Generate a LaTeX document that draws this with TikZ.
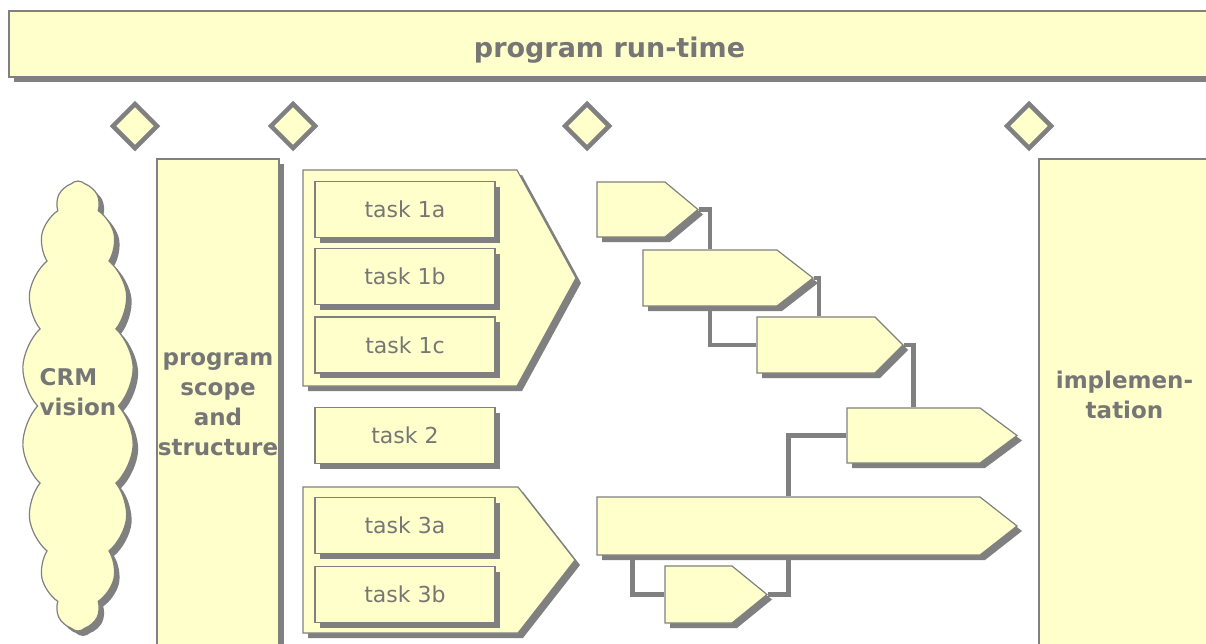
\documentclass[tikz,border=0pt]{standalone}
\usepackage{fontspec}
\setmainfont{DejaVu Sans}
\usetikzlibrary{shapes.geometric,shapes.symbols,shadows}
\definecolor{paleyellow}{RGB}{255,255,204}
\definecolor{linegray}{RGB}{128,128,128}
\definecolor{textgray}{RGB}{118,118,118}

\begin{document}
\begin{tikzpicture}[x=1pt,y=-1pt,
        box/.style={draw=linegray, fill=paleyellow, line width=1.2pt, inner sep=0pt,
            drop shadow={shadow xshift=5pt, shadow yshift=-5pt, fill=linegray, opacity=1}},
        task/.style={box, minimum width=180pt, minimum height=56pt,
            font=\fontsize{22}{26}\selectfont, text=textgray},
        heading/.style={font=\fontsize{23}{30}\selectfont\bfseries, text=textgray, align=center},
        chevron/.style={box, shape=signal, signal to=east, signal pointer angle=#1},
        mile/.style={draw=linegray, fill=paleyellow, line width=4.5pt, shape=diamond,
            minimum width=46pt, minimum height=46pt, inner sep=0pt},
        link/.style={draw=linegray, line width=4.5pt}]
        \useasboundingbox (0,0) rectangle (1206,643);
        \clip (0,0) rectangle (1206,643);

        \node[box, minimum width=1201pt, minimum height=66pt, text=textgray, text height=27pt, text depth=0pt,
            font=\fontsize{27}{32}\selectfont\bfseries] (runtime) at (609.5,44) {program run-time};

        \node[mile] (m1) at (135,126) {};
        \node[mile] (m2) at (293,126) {};
        \node[mile] (m3) at (587,126) {};
        \node[mile] (m4) at (1029,126) {};

        \node[box, shape=cloud, cloud puffs=18, cloud puff arc=90, aspect=0.25,
            minimum width=112pt, minimum height=450pt,
            label={[heading, align=left, yshift=14pt]center:CRM\\vision}] (vision) at (78,406) {};

        \node[box, heading, minimum width=122pt, minimum height=491pt] (scope) at (218,404.5) {program\\scope\\and\\structure};

        \node[chevron=122.7, minimum width=273pt, minimum height=216pt] (group1) at (410,278) {};
        \node[task] (t1a) at (405,209.5) {task 1a};
        \node[task] (t1b) at (405,276.5) {task 1b};
        \node[task] (t1c) at (405,345) {task 1c};

        \node[task] (t2) at (405,435.5) {task 2};

        \node[chevron=104, minimum width=272pt, minimum height=146pt] (group3) at (410.5,560) {};
        \node[task] (t3a) at (405,525.5) {task 3a};
        \node[task] (t3b) at (405,594.5) {task 3b};

        \node[chevron=79.6, minimum width=101pt, minimum height=55pt] (stepA) at (631,209.5) {};
        \node[chevron=75.7, minimum width=170pt, minimum height=56pt] (stepB) at (710,278) {};
        \node[chevron=90, minimum width=146pt, minimum height=56pt] (stepC) at (816,345) {};
        \node[chevron=73.2, minimum width=170pt, minimum height=55pt] (stepD) at (913.5,435.5) {};
        \node[chevron=76.2, minimum width=420pt, minimum height=58pt] (stepE) at (788.5,526) {};
        \node[chevron=78.3, minimum width=102pt, minimum height=57pt] (stepF) at (698.5,594.5) {};

        \draw[link] (stepA.east) -| (stepB.north);
        \draw[link] (stepB.east) -| ([shift={(5,0)}]stepB.east |- stepC.north);
        \draw[link] (stepB.south) |- (stepC.west);
        \draw[link] (stepC.east) -| (stepD.north);
        \draw[link] (stepE.north) |- (stepD.west);
        \draw[link] ([shift={(36,0)}]stepE.west |- stepE.south) |- (stepF.west);
        \draw[link] (stepF.east) -| (stepE.south);

        \node[box, heading, minimum width=171pt, minimum height=491pt, text depth=20pt] (impl) at (1124.5,404.5) {implemen-\\tation};
    \end{tikzpicture}
\end{document}
